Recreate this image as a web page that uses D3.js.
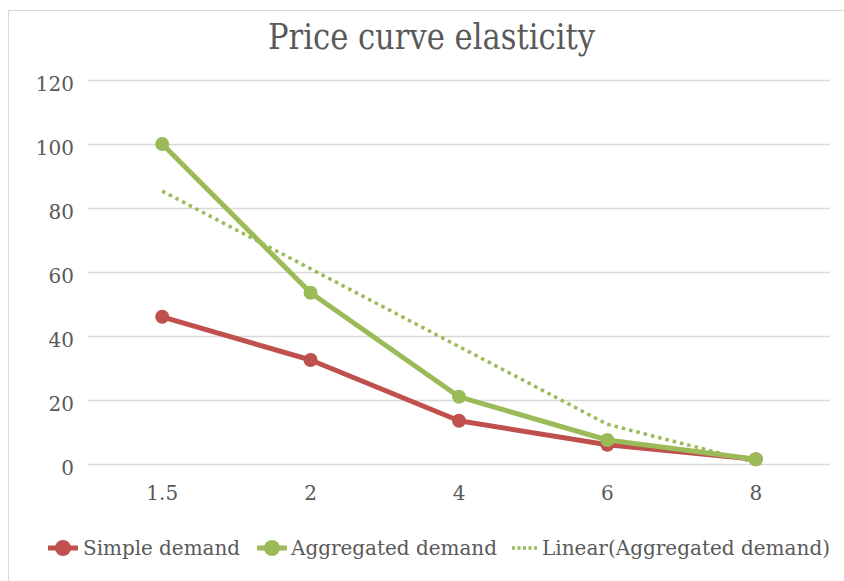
<!DOCTYPE html>
<html><head><meta charset="utf-8">
<script src="https://cdn.jsdelivr.net/npm/d3@7"></script>
<style>body{margin:0;background:#fff;}svg{display:block;}</style>
</head><body>
<script>
const categories = ["1.5", "2", "4", "6", "8"];
const simpleDemand = [46, 32.5, 13.5, 6, 1.5];
const aggregatedDemand = [100, 53.5, 21, 7.5, 1.5];
const linearTrend = [85.3, 61, 36.7, 12.4, 0.5];
const yTicks = [0, 20, 40, 60, 80, 100, 120];
const title = "Price curve elasticity";
const seriesNames = ["Simple demand", "Aggregated demand", "Linear(Aggregated demand)"];

const W = 844, H = 581;
const red = "#C0504D", green = "#9BBB59";
const font = "'DejaVu Serif', serif";
const fontC = "'DejaVu Serif Condensed', 'DejaVu Serif', serif";
const svg = d3.select("body").append("svg").attr("width", W).attr("height", H);
svg.append("rect").attr("width", W).attr("height", H).attr("fill", "#fff");
svg.append("rect").attr("x", 8.5).attr("y", 10.5).attr("width", W).attr("height", H)
  .attr("fill", "none").attr("stroke", "#d9d9d9").attr("stroke-width", 1);

const x = d3.scaleBand().domain(categories).range([88, 830]);
const y = d3.scaleLinear().domain([0, 120]).range([464, 80]);
const cx = c => x(c) + x.bandwidth() / 2;

svg.append("text").attr("x", 268).attr("y", 49)
  .attr("font-family", fontC).attr("font-size", 35).attr("fill", "#595959")
  .attr("textLength", 327).attr("lengthAdjust", "spacingAndGlyphs").text(title);

// gridlines
const yAxis = d3.axisLeft(y).tickValues(yTicks).tickSize(-(830 - 88)).tickPadding(14);
const gy = svg.append("g").attr("transform", "translate(88,0)").call(yAxis);
gy.select(".domain").remove();
gy.selectAll(".tick line").attr("stroke", "#d9d9d9").attr("stroke-width", 1.5);
gy.selectAll(".tick text").attr("font-family", font).attr("font-size", 20).attr("fill", "#595959").attr("dy", "0.5em");

const xAxis = d3.axisBottom(x).tickSize(0).tickPadding(22);
const gx = svg.append("g").attr("transform", "translate(0,464)").call(xAxis);
gx.select(".domain").remove();
gx.selectAll(".tick text").attr("font-family", font).attr("font-size", 20).attr("fill", "#595959");

svg.append("defs").append("clipPath").attr("id", "plot")
  .append("rect").attr("x", 88).attr("y", 70).attr("width", 742).attr("height", 394);

const line = d3.line().x((d, i) => cx(categories[i])).y(d => y(d));

// trend
svg.append("path").attr("clip-path", "url(#plot)").attr("d", line(linearTrend))
  .attr("fill", "none").attr("stroke", green).attr("stroke-width", 3.5)
  .attr("stroke-dasharray", "3.5,4");

[[simpleDemand, red], [aggregatedDemand, green]].forEach(([data, col]) => {
  svg.append("path").attr("d", line(data)).attr("fill", "none").attr("stroke", col)
    .attr("stroke-width", 5).attr("stroke-linejoin", "round");
  svg.selectAll(null).data(data).enter().append("circle")
    .attr("cx", (d, i) => cx(categories[i])).attr("cy", d => y(d)).attr("r", 7).attr("fill", col);
});

// legend
const ly = 548;
const leg = svg.append("g");
const items = [
  {name: seriesNames[0], col: red, x0: 48, tx: 83, tw: 157, type: "marker"},
  {name: seriesNames[1], col: green, x0: 257, tx: 291, tw: 206, type: "marker"},
  {name: seriesNames[2], col: green, x0: 512, tx: 542, tw: 288, type: "dash"}
];
items.forEach(it => {
  if (it.type === "marker") {
    leg.append("line").attr("x1", it.x0).attr("x2", it.x0 + 30).attr("y1", ly).attr("y2", ly)
      .attr("stroke", it.col).attr("stroke-width", 5);
    leg.append("circle").attr("cx", it.x0 + 15).attr("cy", ly).attr("r", 8).attr("fill", it.col);
  } else {
    leg.append("line").attr("x1", it.x0).attr("x2", it.x0 + 27).attr("y1", ly).attr("y2", ly)
      .attr("stroke", it.col).attr("stroke-width", 3.5).attr("stroke-dasharray", "3,2.5");
  }
  leg.append("text").attr("x", it.tx).attr("y", ly + 7)
    .attr("font-family", fontC).attr("font-size", 20).attr("fill", "#595959")
    .attr("textLength", it.tw).attr("lengthAdjust", "spacingAndGlyphs").text(it.name);
});
</script>
</body></html>
